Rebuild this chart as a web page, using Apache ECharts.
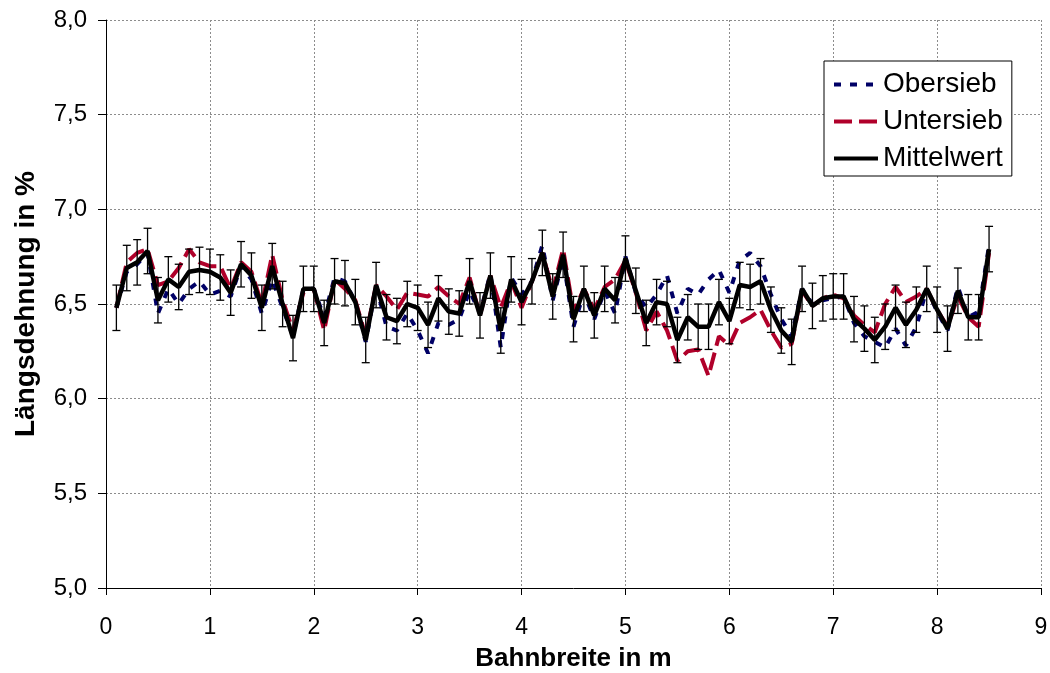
<!DOCTYPE html>
<html>
<head>
<meta charset="utf-8">
<script src="https://cdn.jsdelivr.net/npm/echarts@6/dist/echarts.min.js"></script>
<style>
  html, body { margin: 0; padding: 0; background: #ffffff; }
  #chart { width: 1050px; height: 673px; }
</style>
</head>
<body>
<div id="chart"></div>
<script>
// Positions across the web width (m)
const bahnbreite = [
  0.1, 0.2, 0.3, 0.4, 0.5, 0.6, 0.7, 0.8, 0.9, 1.0,
  1.1, 1.2, 1.3, 1.4, 1.5, 1.6, 1.7, 1.8, 1.9, 2.0,
  2.1, 2.2, 2.3, 2.4, 2.5, 2.6, 2.7, 2.8, 2.9, 3.0,
  3.1, 3.2, 3.3, 3.4, 3.5, 3.6, 3.7, 3.8, 3.9, 4.0,
  4.1, 4.2, 4.3, 4.4, 4.5, 4.6, 4.7, 4.8, 4.9, 5.0,
  5.1, 5.2, 5.3, 5.4, 5.5, 5.6, 5.7, 5.8, 5.9, 6.0,
  6.1, 6.2, 6.3, 6.4, 6.5, 6.6, 6.7, 6.8, 6.9, 7.0,
  7.1, 7.2, 7.3, 7.4, 7.5, 7.6, 7.7, 7.8, 7.9, 8.0,
  8.1, 8.2, 8.3, 8.4, 8.5
];

// Elongation, top wire side (%)
const obersieb = [
  6.48, 6.67, 6.71, 6.77, 6.45, 6.58, 6.50, 6.58, 6.62, 6.55,
  6.57, 6.54, 6.70, 6.63, 6.45, 6.63, 6.48, 6.33, 6.58, 6.58,
  6.43, 6.64, 6.62, 6.51, 6.30, 6.60, 6.38, 6.36, 6.45, 6.36,
  6.24, 6.40, 6.39, 6.42, 6.57, 6.45, 6.66, 6.27, 6.64, 6.55,
  6.62, 6.81, 6.52, 6.74, 6.38, 6.56, 6.42, 6.57, 6.45, 6.75,
  6.56, 6.48, 6.55, 6.65, 6.45, 6.58, 6.55, 6.63, 6.68, 6.56,
  6.73, 6.77, 6.70, 6.55, 6.42, 6.33, 6.58, 6.50, 6.52, 6.53,
  6.54, 6.40, 6.33, 6.30, 6.27, 6.37, 6.28, 6.38, 6.58, 6.46,
  6.36, 6.59, 6.43, 6.46, 6.81
];

// Elongation, bottom wire side (%)
const untersieb = [
  6.48, 6.72, 6.77, 6.79, 6.60, 6.62, 6.69, 6.79, 6.72, 6.70,
  6.70, 6.58, 6.72, 6.67, 6.50, 6.76, 6.52, 6.36, 6.56, 6.58,
  6.36, 6.63, 6.58, 6.52, 6.33, 6.60, 6.54, 6.47, 6.56, 6.55,
  6.54, 6.59, 6.54, 6.50, 6.64, 6.44, 6.65, 6.48, 6.62, 6.48,
  6.62, 6.77, 6.57, 6.79, 6.46, 6.58, 6.47, 6.59, 6.63, 6.73,
  6.56, 6.36, 6.46, 6.36, 6.20, 6.25, 6.26, 6.12, 6.33, 6.28,
  6.40, 6.43, 6.47, 6.36, 6.27, 6.29, 6.57, 6.49, 6.53, 6.55,
  6.53, 6.44, 6.39, 6.35, 6.50, 6.59, 6.51, 6.54, 6.58, 6.47,
  6.38, 6.54, 6.43, 6.38, 6.77
];

// Mean value of both sides (%)
const mittelwert = [
  6.48, 6.69, 6.72, 6.78, 6.52, 6.63, 6.59, 6.67, 6.68, 6.67,
  6.64, 6.56, 6.71, 6.65, 6.48, 6.70, 6.50, 6.32, 6.58, 6.58,
  6.40, 6.62, 6.61, 6.51, 6.31, 6.60, 6.43, 6.41, 6.50, 6.48,
  6.39, 6.53, 6.46, 6.45, 6.62, 6.44, 6.65, 6.36, 6.63, 6.51,
  6.62, 6.77, 6.54, 6.76, 6.42, 6.58, 6.44, 6.58, 6.52, 6.74,
  6.57, 6.40, 6.51, 6.50, 6.31, 6.43, 6.38, 6.38, 6.51, 6.41,
  6.60, 6.59, 6.62, 6.47, 6.36, 6.30, 6.58, 6.49, 6.53, 6.54,
  6.54, 6.42, 6.37, 6.31, 6.38, 6.48, 6.39, 6.47, 6.58, 6.47,
  6.37, 6.57, 6.43, 6.43, 6.79
];

// Half width of the error bars on the mean (%)
const fehlerbalken = 0.12;

const xTicks = { min: 0, max: 9, interval: 1 };
const yTicks = { min: 5.0, max: 8.0, interval: 0.5 };

const FONT = '"Liberation Sans", Arial, sans-serif';

const pairs = (ys) => bahnbreite.map((x, i) => [x, ys[i]]);
const errData = bahnbreite.map((x, i) => [x, mittelwert[i] - fehlerbalken, mittelwert[i] + fehlerbalken]);

const chart = echarts.init(document.getElementById('chart'), null, { renderer: 'canvas' });

chart.setOption({
  backgroundColor: '#ffffff',
  animation: false,
  grid: { left: 106, right: 9, top: 20, bottom: 85, containLabel: false, outerBoundsMode: 'none' },
  legend: {
    data: ['Obersieb', 'Untersieb', 'Mittelwert'],
    orient: 'vertical',
    left: 824,
    top: 61,
    backgroundColor: '#ffffff',
    borderColor: '#000000',
    borderWidth: 1,
    borderRadius: 0,
    padding: [9, 9, 3, 8],
    itemGap: 8,
    itemWidth: 44,
    itemHeight: 14,
    itemStyle: { opacity: 0 },
    lineStyle: { width: 4 },
    textStyle: { fontFamily: FONT, fontSize: 28, color: '#000000', lineHeight: 29 }
  },
  xAxis: {
    type: 'value',
    min: xTicks.min,
    max: xTicks.max,
    interval: xTicks.interval,
    name: 'Bahnbreite in m',
    nameLocation: 'middle',
    nameGap: 58,
    nameTextStyle: { fontFamily: FONT, fontSize: 26, fontWeight: 'bold', color: '#000000' },
    axisLine: { show: true, onZero: false, lineStyle: { color: '#000000', width: 1 } },
    axisTick: { show: true, inside: false, length: 7, lineStyle: { color: '#000000' } },
    axisLabel: { fontFamily: FONT, fontSize: 23, color: '#000000', margin: 28 },
    splitLine: { show: true, lineStyle: { color: '#8c8c8c', type: [2, 2], width: 1 } }
  },
  yAxis: {
    type: 'value',
    min: yTicks.min,
    max: yTicks.max,
    interval: yTicks.interval,
    name: 'Längsdehnung in %',
    nameLocation: 'middle',
    nameGap: 66,
    nameRotate: 90,
    nameTextStyle: { fontFamily: FONT, fontSize: 28, fontWeight: 'bold', color: '#000000' },
    axisLine: { show: true, lineStyle: { color: '#000000', width: 1 } },
    axisTick: { show: true, inside: false, length: 8, lineStyle: { color: '#000000' } },
    axisLabel: {
      fontFamily: FONT, fontSize: 24, color: '#000000', margin: 19,
      formatter: (v) => v.toFixed(1).replace('.', ',')
    },
    splitLine: { show: true, lineStyle: { color: '#8c8c8c', type: [2, 2], width: 1 } }
  },
  series: [
    {
      name: 'Obersieb',
      type: 'line',
      data: pairs(obersieb),
      symbol: 'none',
      color: '#000066',
      lineStyle: { color: '#000066', width: 4, type: [7, 9] },
      z: 2
    },
    {
      name: 'Untersieb',
      type: 'line',
      data: pairs(untersieb),
      symbol: 'none',
      color: '#b0002a',
      lineStyle: { color: '#b0002a', width: 4, type: [18, 7] },
      z: 3
    },
    {
      name: 'Mittelwert',
      type: 'line',
      data: pairs(mittelwert),
      symbol: 'none',
      color: '#000000',
      lineStyle: { color: '#000000', width: 4.5 },
      z: 4
    },
    {
      name: 'Fehler',
      type: 'custom',
      data: errData,
      z: 5,
      encode: { x: 0, y: [1, 2] },
      renderItem: function (params, api) {
        const x = api.value(0);
        const lo = api.coord([x, api.value(1)]);
        const hi = api.coord([x, api.value(2)]);
        const cap = 4;
        const style = { stroke: '#000000', lineWidth: 1.3, fill: null };
        return {
          type: 'group',
          children: [
            { type: 'line', shape: { x1: lo[0], y1: lo[1], x2: hi[0], y2: hi[1] }, style: style },
            { type: 'line', shape: { x1: lo[0] - cap, y1: lo[1], x2: lo[0] + cap, y2: lo[1] }, style: style },
            { type: 'line', shape: { x1: hi[0] - cap, y1: hi[1], x2: hi[0] + cap, y2: hi[1] }, style: style }
          ]
        };
      }
    }
  ]
});
</script>
</body>
</html>
